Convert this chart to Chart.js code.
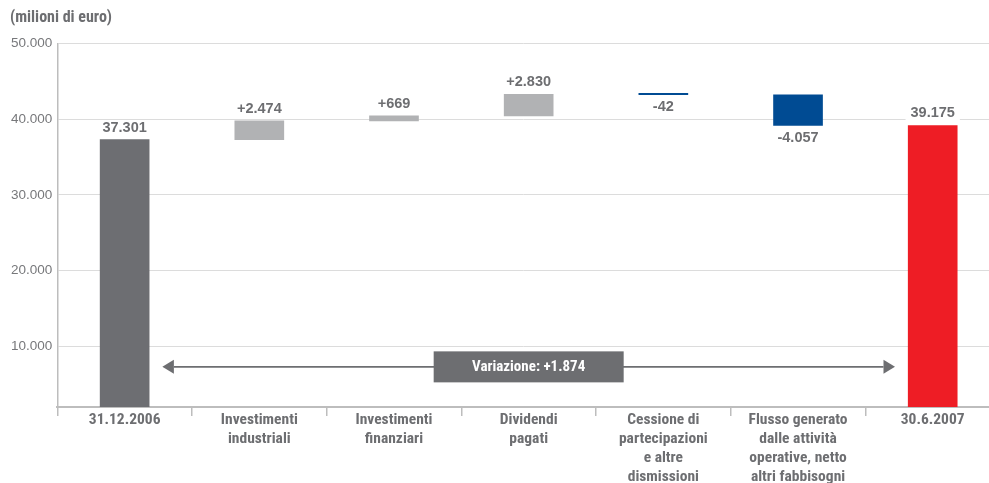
<!DOCTYPE html>
<html>
<head>
<meta charset="utf-8">
<script src="https://cdn.jsdelivr.net/npm/chart.js@4/dist/chart.umd.min.js"></script>
<style>
  html, body { margin: 0; padding: 0; background: #ffffff; }
  #wrap { width: 989px; height: 483px; position: relative; }
</style>
</head>
<body>
<div id="wrap"><canvas id="chart"></canvas></div>
<script>
// Categories (multi-line axis labels)
const categories = [
  ['31.12.2006'],
  ['Investimenti', 'industriali'],
  ['Investimenti', 'finanziari'],
  ['Dividendi', 'pagati'],
  ['Cessione di', 'partecipazioni', 'e altre', 'dismissioni'],
  ['Flusso generato', 'dalle attività', 'operative, netto', 'altri fabbisogni'],
  ['30.6.2007']
];
// Net debt at the start and end of the period, and the movements in between (milioni di euro)
const openingDebt = 37301;
const changes = [2474, 669, 2830, -42, -4057];
const closingDebt = 39175;
// Y axis tick values
const yTicks = [10000, 20000, 30000, 40000, 50000];
const unitLabel = '(milioni di euro)';
const variationText = 'Variazione: ';

const barColors = ['#6d6e72', '#b1b2b4', '#b1b2b4', '#b1b2b4', '#004b93', '#004b93', '#ee1d25'];
const TEXT = '#6d6e71';

// Find an installed condensed face; fall back to a smaller regular sans
const probe = document.createElement('canvas').getContext('2d');
const SAMPLE = 'Investimenti industriali 0123';
function probeWidth(font) {
  probe.font = '10px serif';
  probe.font = font;
  return probe.measureText(SAMPLE).width;
}
function pickCondensed() {
  const baseW = probeWidth('bold 40px "Liberation Sans"');
  const monoW = probeWidth('bold 40px monospace');
  const candidates = [
    { style: '', family: '"Roboto Condensed"' },
    { style: '', family: '"Noto Sans Condensed"' },
    { style: 'condensed', family: '"Noto Sans"' },
    { style: '', family: '"DejaVu Sans Condensed"' },
    { style: 'condensed', family: '"DejaVu Sans"' },
    { style: '', family: '"Liberation Sans Narrow"' },
    { style: 'condensed', family: '"Open Sans"' }
  ];
  for (const c of candidates) {
    const w = probeWidth((c.style ? c.style + ' ' : '') + 'bold 40px ' + c.family + ', monospace');
    if (Math.abs(w - monoW) > 1 && w < baseW * 0.93 && w > baseW * 0.6) {
      return { style: c.style, family: c.family, scale: 1 };
    }
  }
  return { style: '', family: '"Liberation Sans", sans-serif', scale: 0.84 };
}
const COND = pickCondensed();
function condFont(size) {
  return (COND.style ? COND.style + ' ' : '') + 'bold ' + (size * COND.scale) + 'px ' + COND.family;
}
const SANS = '"Liberation Sans", Arial, sans-serif';

// Italian number formatting: 37301 -> 37.301
function fmt(v) {
  return String(Math.abs(Math.round(v))).replace(/\B(?=(\d{3})+(?!\d))/g, '.');
}

// Waterfall segments built from the values above
const segments = [];
let running = openingDebt;
segments.push({ x: 0, y: [0, openingDebt], label: fmt(openingDebt), sign: 1 });
changes.forEach((d, i) => {
  const next = running + d;
  segments.push({ x: i + 1, y: [running, next], label: (d >= 0 ? '+' : '-') + fmt(d), sign: d >= 0 ? 1 : -1 });
  running = next;
});
segments.push({ x: changes.length + 1, y: [0, closingDebt], label: fmt(closingDebt), sign: 1 });

// Value labels above rising bars and below falling ones, on a white patch
const valueLabels = {
  id: 'valueLabels',
  afterDatasetsDraw(chart) {
    const ctx = chart.ctx;
    const meta = chart.getDatasetMeta(0);
    ctx.save();
    ctx.font = 'bold 14.5px ' + SANS;
    ctx.textAlign = 'center';
    ctx.textBaseline = 'middle';
    meta.data.forEach((bar, i) => {
      const s = segments[i];
      const top = Math.min(bar.y, bar.base);
      const bottom = Math.max(bar.y, bar.base);
      const y = s.sign > 0 ? top - 12 : bottom + 12.5;
      const w = ctx.measureText(s.label).width;
      ctx.fillStyle = '#ffffff';
      ctx.fillRect(bar.x - w / 2 - 5, y - 7, w + 10, 14);
      ctx.fillStyle = TEXT;
      ctx.fillText(s.label, bar.x, y);
    });
    ctx.restore();
  }
};

// Double arrow with the overall change in a box
const variationArrow = {
  id: 'variationArrow',
  afterDatasetsDraw(chart, args, opts) {
    const ctx = chart.ctx;
    const xs = chart.scales.x, ys = chart.scales.y;
    const x1 = xs.getPixelForValue(opts.from);
    const x2 = xs.getPixelForValue(opts.to);
    const y = ys.getPixelForValue(opts.level);
    const head = 11.5, half = 7;
    ctx.save();
    ctx.strokeStyle = TEXT;
    ctx.fillStyle = TEXT;
    ctx.lineWidth = 1.7;
    ctx.beginPath();
    ctx.moveTo(x1 + head, y);
    ctx.lineTo(x2 - head, y);
    ctx.stroke();
    ctx.beginPath();
    ctx.moveTo(x1, y); ctx.lineTo(x1 + head, y - half); ctx.lineTo(x1 + head, y + half); ctx.closePath();
    ctx.fill();
    ctx.beginPath();
    ctx.moveTo(x2, y); ctx.lineTo(x2 - head, y - half); ctx.lineTo(x2 - head, y + half); ctx.closePath();
    ctx.fill();
    const cx = xs.getPixelForValue(opts.boxAt);
    const bw = 190, bh = 31;
    ctx.fillRect(cx - bw / 2, y - bh / 2, bw, bh);
    ctx.fillStyle = '#ffffff';
    ctx.font = condFont(15);
    ctx.textAlign = 'center';
    ctx.textBaseline = 'middle';
    const delta = closingDebt - openingDebt;
    ctx.fillText(variationText + (delta >= 0 ? '+' : '-') + fmt(delta), cx, y + 0.5);
    ctx.restore();
  }
};

// Unit caption in the top-left corner
const unitCaption = {
  id: 'unitCaption',
  afterDraw(chart) {
    const ctx = chart.ctx;
    ctx.save();
    ctx.font = condFont(16);
    ctx.fillStyle = TEXT;
    ctx.textAlign = 'left';
    ctx.textBaseline = 'middle';
    ctx.fillText(unitLabel, 10, 18);
    ctx.restore();
  }
};

new Chart(document.getElementById('chart'), {
  type: 'bar',
  data: {
    datasets: [{
      data: segments.map(s => ({ x: s.x, y: s.y })),
      backgroundColor: barColors,
      borderWidth: 0,
      barThickness: 49,
      minBarLength: 1.5
    }]
  },
  options: {
    responsive: true,
    maintainAspectRatio: false,
    animation: false,
    layout: { padding: { top: 43.5, left: 10, right: 0, bottom: 0 } },
    plugins: {
      legend: { display: false },
      tooltip: { enabled: false },
      title: { display: false },
      variationArrow: { from: 0.28, to: 5.72, level: 7300, boxAt: 3 }
    },
    scales: {
      x: {
        type: 'linear',
        min: -0.5,
        max: 6.418,
        offset: false,
        afterBuildTicks(scale) { scale.ticks = categories.map((c, i) => ({ value: i })); },
        afterFit(scale) { scale.height = 76; },
        ticks: {
          autoSkip: false,
          maxRotation: 0,
          color: TEXT,
          padding: -5.5,
          font: { family: COND.family, style: COND.style || undefined, size: 15.5 * COND.scale, weight: 'bold', lineHeight: 19 / (15.5 * COND.scale) },
          callback: (v, i) => categories[i]
        },
        grid: {
          display: true,
          drawOnChartArea: false,
          drawTicks: true,
          tickLength: 9,
          offset: true,
          color: '#bdbdbd',
          lineWidth: 1.5
        },
        border: { display: true, color: '#bdbdbd', width: 2 }
      },
      y: {
        min: 2000,
        max: 50000,
        afterBuildTicks(scale) { scale.ticks = yTicks.map(v => ({ value: v })); },
        afterFit(scale) { scale.width = 47.3; },
        ticks: {
          color: '#77787b',
          padding: 5,
          font: { family: SANS, size: 13.5 },
          callback: v => fmt(v)
        },
        grid: { color: '#dcdcdc', lineWidth: 1, drawTicks: false },
        border: { display: true, color: '#bdbdbd', width: 1.5 }
      }
    }
  },
  plugins: [valueLabels, variationArrow, unitCaption]
});
</script>
</body>
</html>
